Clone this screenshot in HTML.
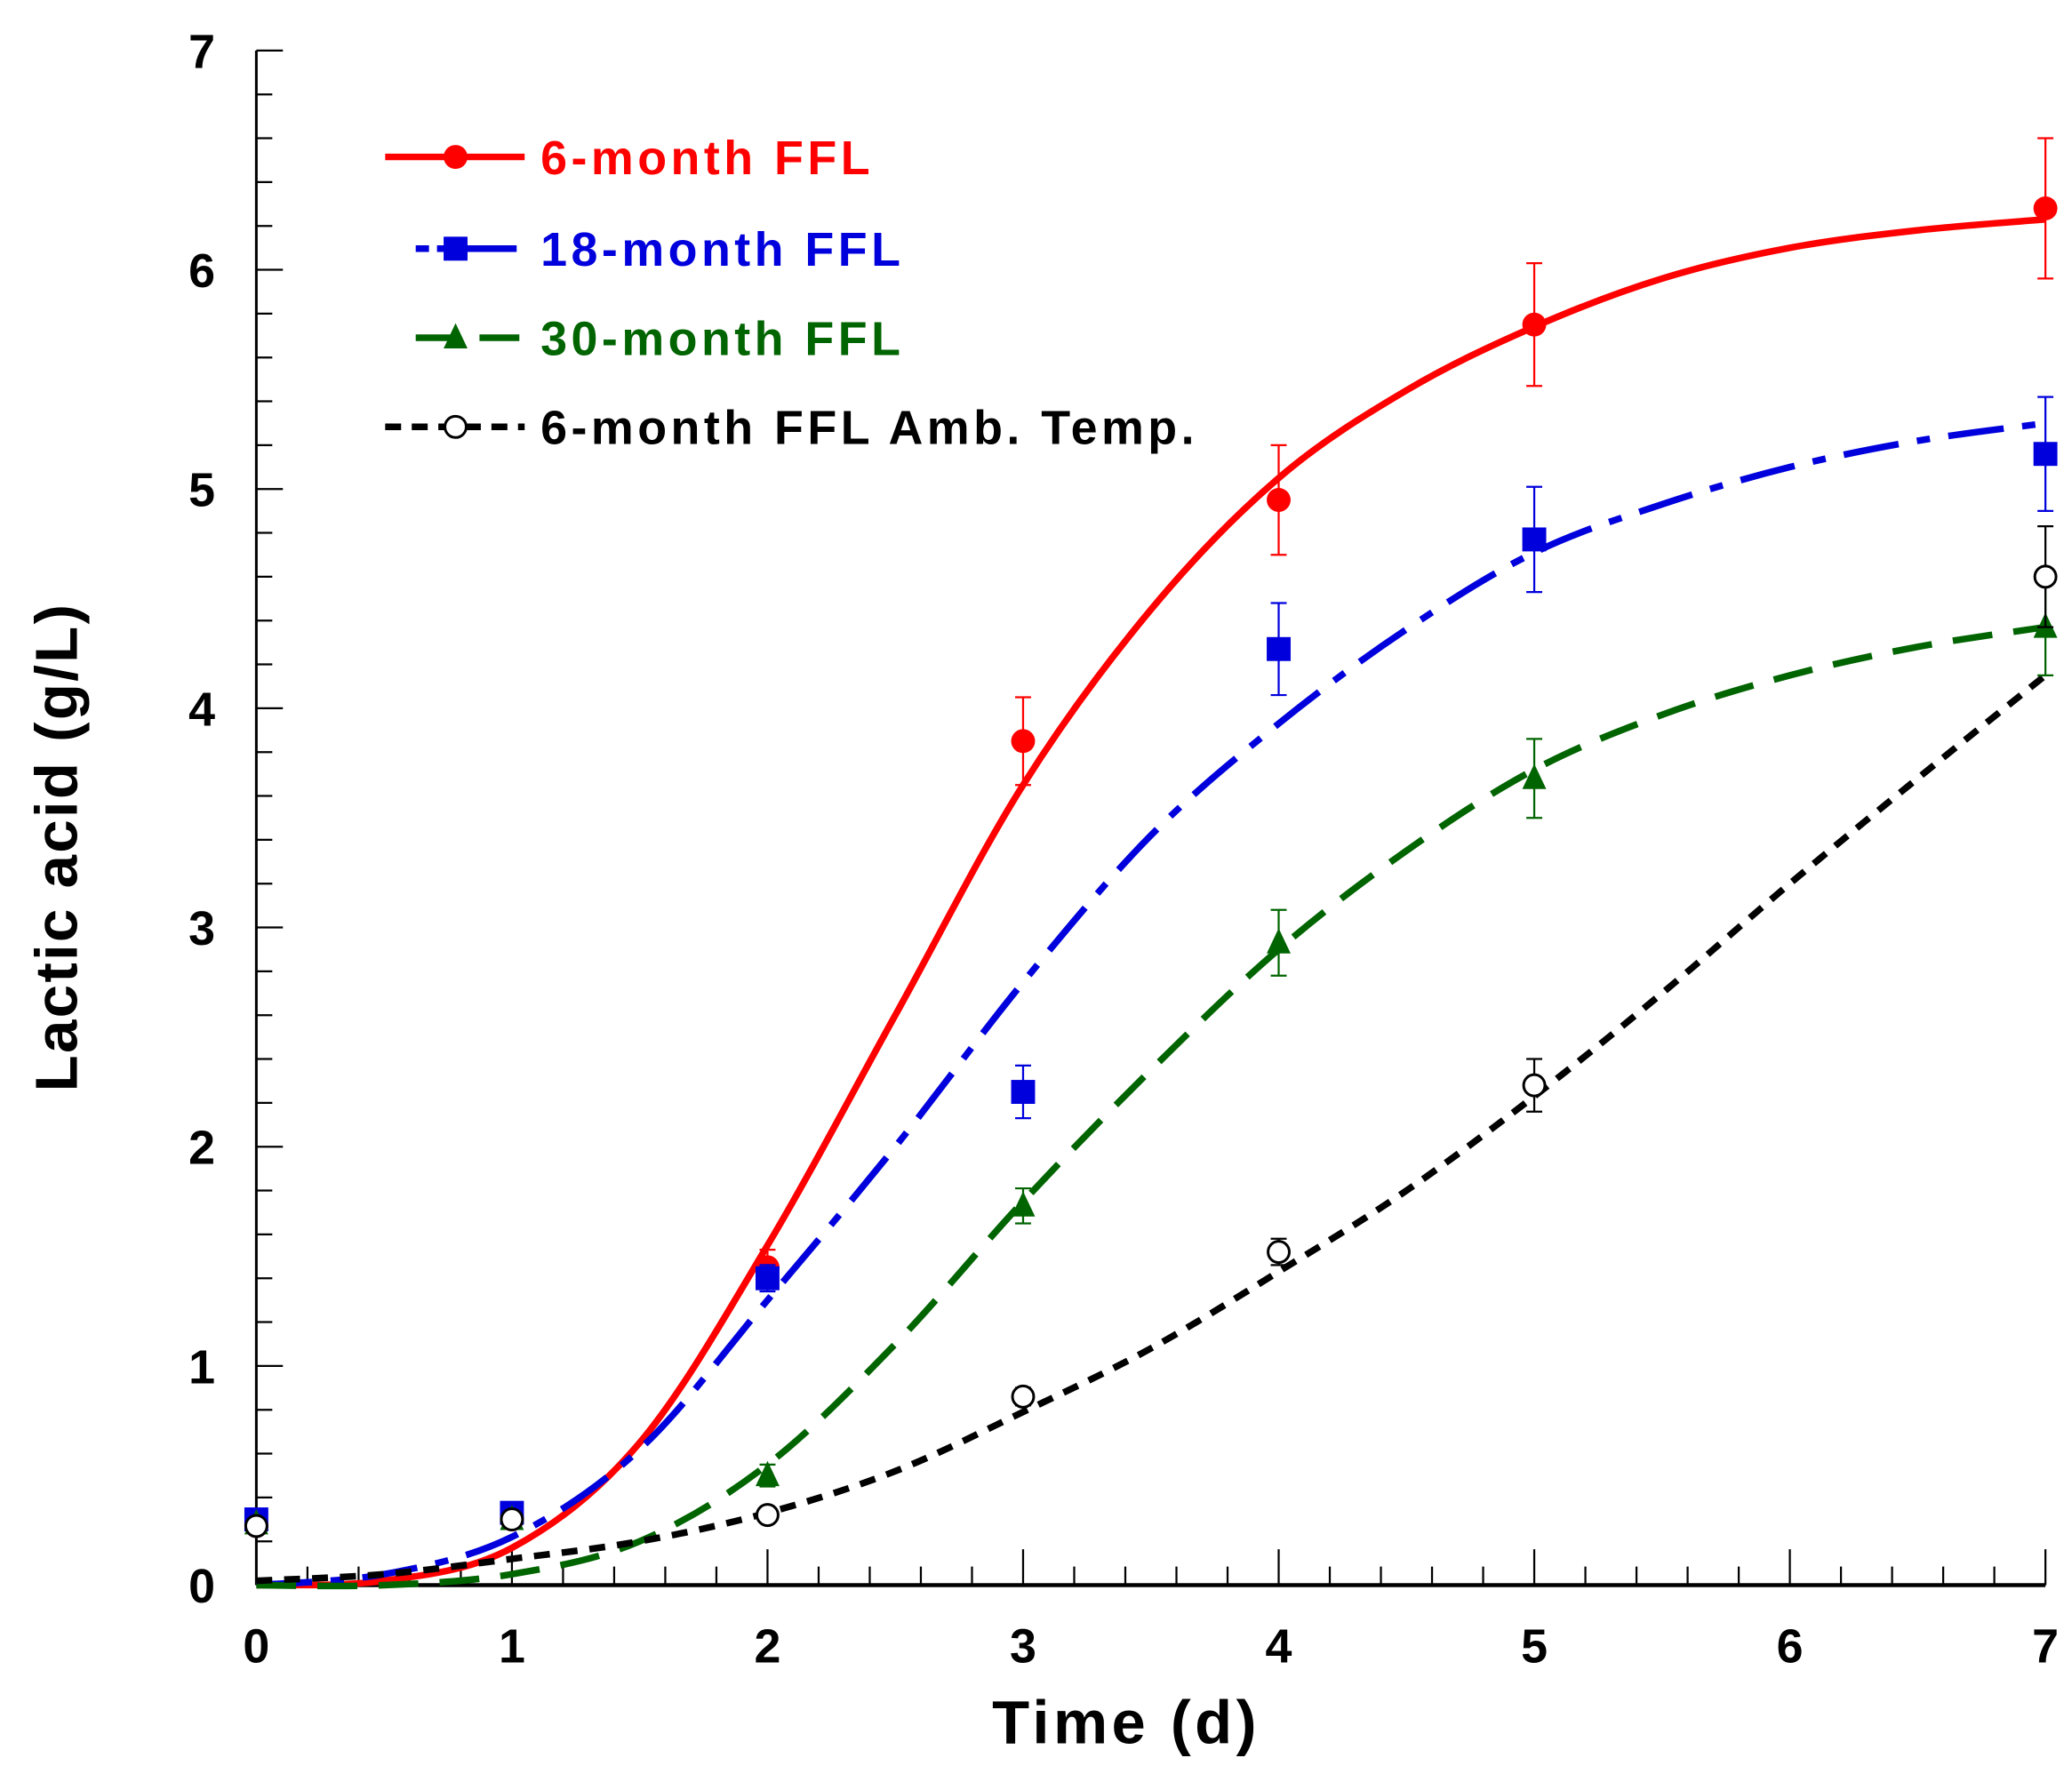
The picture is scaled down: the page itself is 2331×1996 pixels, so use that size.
<!DOCTYPE html>
<html><head><meta charset="utf-8"><style>
html,body{margin:0;padding:0;background:#fff;}
svg{display:block;}
text{font-family:"Liberation Sans",Arial,sans-serif;font-weight:bold;}
</style></head><body>
<svg id="chart" width="2331" height="1996" viewBox="0 0 1560 1334" preserveAspectRatio="none" xmlns="http://www.w3.org/2000/svg">
<g id="axes"></g>
<g id="curves"></g>
<g id="points"></g>
<g id="legend"></g>
<text x="848" y="1311" font-size="46" text-anchor="middle" letter-spacing="3">Time (d)</text>
<text transform="translate(58,637) rotate(-90)" font-size="45" text-anchor="middle" letter-spacing="1.5">Lactic acid (g/L)</text>
</svg>
<script>
const days = [0, 1, 2, 3, 4, 5, 7];
const red = [0.27, 0.30, 1.45, 3.85, 4.95, 5.75, 6.28];
const redErr = [0, 0, 0.08, 0.2, 0.25, 0.28, 0.32];
const blue = [0.30, 0.33, 1.40, 2.25, 4.27, 4.77, 5.16];
const blueErr = [0, 0, 0.06, 0.12, 0.21, 0.24, 0.26];
const green = [0.28, 0.30, 0.50, 1.73, 2.93, 3.68, 4.37];
const greenErr = [0, 0, 0.05, 0.08, 0.15, 0.18, 0.22];
const black = [0.27, 0.30, 0.32, 0.86, 1.52, 2.28, 4.60];
const blackErr = [0, 0, 0.03, 0.04, 0.06, 0.12, 0.23];
const fitX = [0, 0.5, 1, 1.5, 2, 2.5, 3, 3.5, 4, 4.5, 5, 5.5, 6, 6.5, 7];
const redFit = [0, 0.02, 0.17, 0.65, 1.55, 2.6, 3.65, 4.45, 5.05, 5.45, 5.74, 5.96, 6.1, 6.18, 6.23];
const blueFit = [0, 0.05, 0.22, 0.62, 1.3, 2.0, 2.75, 3.42, 3.93, 4.36, 4.71, 4.93, 5.1, 5.22, 5.3];
const greenFit = [0, 0, 0.05, 0.2, 0.55, 1.1, 1.75, 2.35, 2.9, 3.35, 3.72, 3.97, 4.15, 4.28, 4.37];
const blackFit = [0.02, 0.05, 0.12, 0.2, 0.33, 0.52, 0.79, 1.08, 1.43, 1.8, 2.23, 2.7, 3.2, 3.68, 4.15];
const xTicks = ["0","1","2","3","4","5","6","7"];
const yTicks = ["0","1","2","3","4","5","6","7"];
const legendLabels = ["6-month FFL","18-month FFL","30-month FFL","6-month FFL Amb. Temp."];

const NS = "http://www.w3.org/2000/svg";
const X0 = 193, X1 = 1540, Y0 = 1192, Y1 = 38;
const sx = v => X0 + v * (X1 - X0) / 7;
const sy = v => Y0 - v * (Y0 - Y1) / 7;
function mk(tag, attrs, parent) {
  const e = document.createElementNS(NS, tag);
  for (const k in attrs) e.setAttribute(k, attrs[k]);
  parent.appendChild(e);
  return e;
}
const axes = document.getElementById('axes');
let a = mk('line', {x1: X0, y1: Y0, x2: X1, y2: Y0, stroke: '#000', 'stroke-width': 3}, axes);


a = mk('line', {x1: X0, y1: Y0, x2: X0, y2: Y1, stroke: '#000', 'stroke-width': 2}, axes);


for (let i = 0; i <= 35; i++) {
  const v = i / 5, major = i % 5 === 0;
  const t = mk('line', {x1: sx(v), y1: Y0, x2: sx(v), y2: Y0 - (major ? 27 : 14), stroke: '#000', 'stroke-width': 1.5}, axes);
  
  
  const u = mk('line', {x1: X0, y1: sy(v), x2: X0 + (major ? 20 : 12), y2: sy(v), stroke: '#000', 'stroke-width': 1.5}, axes);
  
  
}
xTicks.forEach((s, i) => {
  const t = mk('text', {x: sx(+s), y: 1250, 'font-size': 36, 'text-anchor': 'middle'}, axes);
  t.textContent = s;
  
  
});
yTicks.forEach((s, i) => {
  const t = mk('text', {x: 162, y: sy(+s) + 13, 'font-size': 36, 'text-anchor': 'end'}, axes);
  t.textContent = s;
  
  
});
function smoothPath(xs, ys) {
  const p = xs.map((x, i) => [sx(x), sy(ys[i])]);
  let d = 'M' + p[0][0] + ',' + p[0][1];
  for (let i = 0; i < p.length - 1; i++) {
    const p0 = p[Math.max(0, i - 1)], p1 = p[i], p2 = p[i + 1], p3 = p[Math.min(p.length - 1, i + 2)];
    const c1 = [p1[0] + (p2[0] - p0[0]) / 6, p1[1] + (p2[1] - p0[1]) / 6];
    const c2 = [p2[0] - (p3[0] - p1[0]) / 6, p2[1] - (p3[1] - p1[1]) / 6];
    d += ' C' + c1 + ' ' + c2 + ' ' + p2;
  }
  return d;
}
const series = [
  {name: 'red', color: '#ff0000', fit: redFit, vals: red, err: redErr, dash: 'none', marker: 'circle'},
  {name: 'blue', color: '#0000dd', fit: blueFit, vals: blue, err: blueErr, dash: '42 14 10 14', marker: 'square'},
  {name: 'green', color: '#006400', fit: greenFit, vals: green, err: greenErr, dash: '30 16', marker: 'triangle'},
  {name: 'black', color: '#000000', fit: blackFit, vals: black, err: blackErr, dash: '12 9', marker: 'open'}
];
const curves = document.getElementById('curves'), pts = document.getElementById('points');
function marker(kind, x, y, color, parent) {
  let m;
  if (kind === 'circle') m = mk('circle', {cx: x, cy: y, r: 9, fill: color}, parent);
  else if (kind === 'square') m = mk('rect', {x: x - 9, y: y - 9, width: 18, height: 18, fill: color}, parent);
  else if (kind === 'triangle') m = mk('polygon', {points: `${x},${y - 11} ${x - 9},${y + 8} ${x + 9},${y + 8}`, fill: color}, parent);
  else m = mk('circle', {cx: x, cy: y, r: 8, fill: '#fff', stroke: '#000', 'stroke-width': 2}, parent);
  return m;
}
series.forEach(s => {
  const c = mk('path', {d: smoothPath(fitX, s.fit), fill: 'none', stroke: s.color, 'stroke-width': 5, 'stroke-dasharray': s.dash}, curves);
  
  
  days.forEach((d, i) => {
    const x = sx(d), y = sy(s.vals[i]);
    if (s.err[i] > 0) {
      const yt = sy(s.vals[i] + s.err[i]), yb = sy(s.vals[i] - s.err[i]);
      const e = mk('path', {d: `M${x},${yt}V${yb}M${x - 6},${yt}H${x + 6}M${x - 6},${yb}H${x + 6}`, stroke: s.color, 'stroke-width': 1.5, fill: 'none'}, pts);
      
      
    }
    const m = marker(s.marker, x, y, s.color, pts);
    
    
  });
});
const legend = document.getElementById('legend');
const legY = [118, 187, 254, 321];
const legX1 = [290, 313, 313, 290];
series.forEach((s, i) => {
  const y = legY[i];
  const l = mk('line', {x1: legX1[i], y1: y, x2: 395, y2: y, stroke: s.color, 'stroke-width': 5, 'stroke-dasharray': s.dash === 'none' ? 'none' : (i === 1 ? '10 6 60' : (i === 2 ? '30 18' : '12 8'))}, legend);
  
  
  const m = marker(s.marker, 343, y, s.color, legend);
  
  
  const t = mk('text', {x: 407, y: y + 13, 'font-size': 36, fill: s.color, 'letter-spacing': 3}, legend);
  t.textContent = legendLabels[i];
  
  
});
</script>
</body></html>
